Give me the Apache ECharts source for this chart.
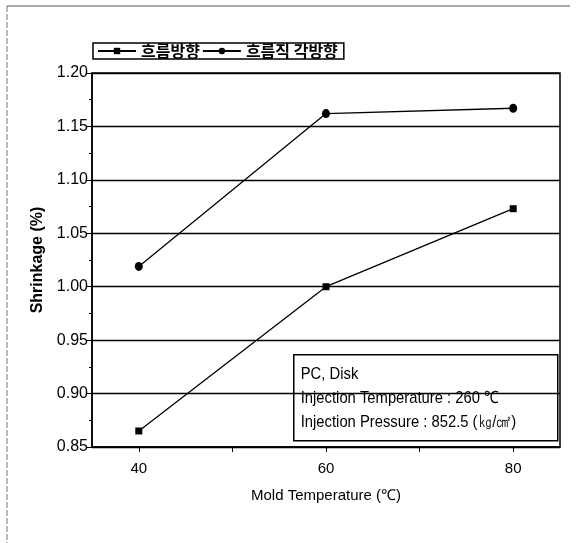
<!DOCTYPE html>
<html>
<head>
<meta charset="utf-8">
<script src="https://cdn.jsdelivr.net/npm/echarts@6/dist/echarts.min.js"></script>
<style>
  html,body{margin:0;padding:0;background:#fff}
  #chart{width:580px;height:543px}
</style>
</head>
<body>
<div id="chart"></div>
<script>
// mold temperature (x) vs shrinkage (%)
var moldTemps = [40, 60, 80]
var flowDir = [0.865, 1.000, 1.073]
var crossDir = [1.019, 1.162, 1.167]
var seriesNames = ['흐름방향', '흐름직 각방향']
var xLabels = [40, 60, 80]
var xTicks = [40, 50, 60, 70, 80]
var noteLines = ['PC, Disk', 'Injection Temperature : 260 ℃', 'Injection Pressure : 852.5 (㎏/㎠)']

var sans = '"Liberation Sans", Arial, sans-serif'
var kr = '"Noto Sans CJK KR", sans-serif'

function pairs(xs, ys){
  var out = []
  for (var i in xs) out.push([xs[i], ys[i]])
  return out
}

var chart = echarts.init(document.getElementById('chart'), null, {renderer:'canvas'})

var option = {
  backgroundColor:'#fff',
  animation:false,
  legend:{
    left:93, top:43,
    padding:[0,6,0,4],
    itemGap:2,
    itemWidth:38,
    itemHeight:8,
    borderColor:'#000',
    borderWidth:1.5,
    textStyle:{fontFamily:kr, fontSize:16, fontWeight:'bold', color:'#000'},
    data:seriesNames
  },
  grid:{
    left:92, right:20, top:73, bottom:96,
    show:true, borderColor:'#000', borderWidth:1.5
  },
  xAxis:{
    type:'value',
    min:35, max:85,
    name:'Mold Temperature (℃)',
    nameLocation:'middle',
    nameGap:41,
    nameTextStyle:{fontFamily:sans, fontSize:15, color:'#000'},
    axisLine:{lineStyle:{color:'#000', width:1.5}},
    axisTick:{show:true, length:5, customValues:xTicks, lineStyle:{color:'#000'}},
    axisLabel:{customValues:xLabels, fontFamily:sans, fontSize:15, color:'#000', margin:14},
    splitLine:{show:false}
  },
  yAxis:{
    type:'value',
    min:0.85, max:1.20, interval:0.05,
    name:'Shrinkage (%)',
    nameLocation:'middle',
    nameGap:46,
    nameTextStyle:{fontFamily:sans, fontSize:16, fontWeight:'bold', color:'#000'},
    axisLine:{show:true, lineStyle:{color:'#000', width:1.5}},
    axisTick:{show:true, length:5, lineStyle:{color:'#000'}},
    minorTick:{show:true, splitNumber:2, length:3, lineStyle:{color:'#000'}},
    axisLabel:{fontFamily:sans, fontSize:16, color:'#000', margin:4,
      formatter:function(v){ return v.toFixed(2) }},
    splitLine:{show:true, lineStyle:{color:'#000', width:1.4}}
  },
  series:[
    {
      name:seriesNames[0],
      type:'line',
      data:pairs(moldTemps, flowDir),
      symbol:'rect',
      symbolSize:7,
      lineStyle:{color:'#000', width:1.3},
      itemStyle:{color:'#000'}
    },
    {
      name:seriesNames[1],
      type:'line',
      data:pairs(moldTemps, crossDir),
      symbol:'circle',
      symbolSize:[8,9],
      lineStyle:{color:'#000', width:1.3},
      itemStyle:{color:'#000'}
    }
  ],
  graphic:[
    // outer page frame (left + top)
    {type:'line', shape:{x1:7, y1:6, x2:570, y2:6}, style:{stroke:'#555', lineWidth:1.2}},
    {type:'line', shape:{x1:7, y1:6, x2:7, y2:543}, style:{stroke:'#777', lineWidth:1, lineDash:[6,2]}},
    {
      type:'group', left:293, top:354,
      children:[
        {type:'rect', shape:{x:0, y:0, width:264, height:86}, style:{fill:'#fff', stroke:'#000', lineWidth:1.5}},
        {type:'text', x:7, y:8, scaleX:0.87, style:{text:noteLines.join('\n'), lineHeight:24,
          font:'17px ' + sans, fill:'#000'}}
      ]
    }
  ]
}

chart.setOption(option)
</script>
</body>
</html>
